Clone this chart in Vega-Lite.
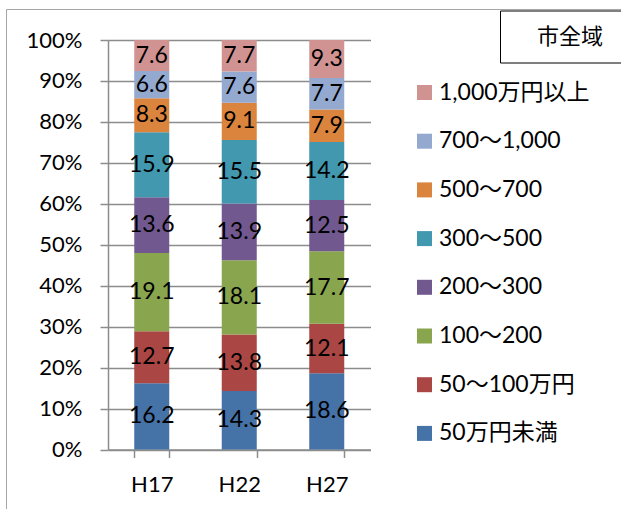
{
  "$schema": "https://vega.github.io/schema/vega-lite/v6.json",
  "width": 262.5,
  "height": 409.5,
  "autosize": {"type": "none"},
  "padding": {"left": 108, "top": 40, "right": 250.5, "bottom": 59.5},
  "background": "#ffffff",
  "config": {
    "view": {"stroke": null},
    "font": "Lato",
    "axis": {
      "labelFont": "Lato",
      "labelFontSize": 22,
      "labelColor": "#000000",
      "domainColor": "#8c8c8c",
      "domainWidth": 1.5,
      "tickColor": "#8c8c8c",
      "tickWidth": 1.5,
      "tickSize": 8,
      "gridColor": "#8c8c8c",
      "gridWidth": 1.5,
      "title": null
    }
  },
  "data": {
    "values": [
      {"year": "H17", "cat": "50万円未満", "k": 1, "v": 16.2},
      {"year": "H17", "cat": "50～100万円", "k": 2, "v": 12.7},
      {"year": "H17", "cat": "100～200", "k": 3, "v": 19.1},
      {"year": "H17", "cat": "200～300", "k": 4, "v": 13.6},
      {"year": "H17", "cat": "300～500", "k": 5, "v": 15.9},
      {"year": "H17", "cat": "500～700", "k": 6, "v": 8.3},
      {"year": "H17", "cat": "700～1,000", "k": 7, "v": 6.6},
      {"year": "H17", "cat": "1,000万円以上", "k": 8, "v": 7.6},
      {"year": "H22", "cat": "50万円未満", "k": 1, "v": 14.3},
      {"year": "H22", "cat": "50～100万円", "k": 2, "v": 13.8},
      {"year": "H22", "cat": "100～200", "k": 3, "v": 18.1},
      {"year": "H22", "cat": "200～300", "k": 4, "v": 13.9},
      {"year": "H22", "cat": "300～500", "k": 5, "v": 15.5},
      {"year": "H22", "cat": "500～700", "k": 6, "v": 9.1},
      {"year": "H22", "cat": "700～1,000", "k": 7, "v": 7.6},
      {"year": "H22", "cat": "1,000万円以上", "k": 8, "v": 7.7},
      {"year": "H27", "cat": "50万円未満", "k": 1, "v": 18.6},
      {"year": "H27", "cat": "50～100万円", "k": 2, "v": 12.1},
      {"year": "H27", "cat": "100～200", "k": 3, "v": 17.7},
      {"year": "H27", "cat": "200～300", "k": 4, "v": 12.5},
      {"year": "H27", "cat": "300～500", "k": 5, "v": 14.2},
      {"year": "H27", "cat": "500～700", "k": 6, "v": 7.9},
      {"year": "H27", "cat": "700～1,000", "k": 7, "v": 7.7},
      {"year": "H27", "cat": "1,000万円以上", "k": 8, "v": 9.3}
    ]
  },
  "encoding": {
    "x": {
      "field": "year",
      "type": "nominal",
      "scale": {"paddingInner": 0.6, "paddingOuter": 0.3},
      "axis": {"labelAngle": 0, "labelPadding": 17, "tickBand": "extent", "grid": false}
    }
  },
  "layer": [
    {
      "mark": {"type": "bar"},
      "encoding": {
        "y": {
          "field": "v",
          "type": "quantitative",
          "stack": "zero",
          "scale": {"domain": [0, 100], "nice": false},
          "axis": {
            "values": [0, 10, 20, 30, 40, 50, 60, 70, 80, 90, 100],
            "labelExpr": "datum.value + '%'",
            "labelPadding": 18,
            "grid": true
          }
        },
        "order": {"field": "k", "type": "quantitative", "sort": "ascending"},
        "color": {
          "field": "cat",
          "type": "nominal",
          "scale": {
            "domain": ["1,000万円以上", "700～1,000", "500～700", "300～500", "200～300", "100～200", "50～100万円", "50万円未満"],
            "range": ["#D19392", "#93A9CF", "#DB843D", "#4198AF", "#71588F", "#89A54E", "#AA4643", "#4572A7"]
          },
          "legend": {
            "title": null,
            "orient": "none",
            "legendX": 305,
            "legendY": 41,
            "symbolType": "square",
            "symbolSize": 225,
            "symbolStrokeWidth": 0,
            "labelFont": "Lato, 'Noto Sans CJK JP'",
            "labelFontSize": 23,
            "labelColor": "#000000",
            "labelOffset": 3,
            "rowPadding": 24.7,
            "labelLimit": 300,
            "padding": 0
          }
        }
      }
    },
    {
      "transform": [
        {"stack": "v", "groupby": ["year"], "sort": [{"field": "k", "order": "ascending"}], "as": ["y0", "y1"]},
        {"fold": ["y0", "y1"], "as": ["edge", "pos"]}
      ],
      "mark": {"type": "text", "baseline": "middle", "align": "center", "fontSize": 23, "font": "Lato", "color": "#000000"},
      "encoding": {
        "y": {"aggregate": "mean", "field": "pos", "type": "quantitative", "stack": null},
        "detail": {"field": "cat", "type": "nominal"},
        "text": {"field": "v", "type": "quantitative", "format": ".1f"}
      }
    },
    {
      "mark": {"type": "point", "opacity": 0},
      "encoding": {
        "shape": {
          "datum": "市全域",
          "legend": {
            "title": null,
            "orient": "none",
            "legendX": 392,
            "legendY": -29.5,
            "strokeColor": "#000000",
            "padding": 15,
            "symbolSize": 64,
            "symbolOpacity": 0,
            "symbolStrokeWidth": 0,
            "labelOffset": 0,
            "labelFont": "'Noto Sans CJK JP'",
            "labelFontSize": 22,
            "labelColor": "#000000",
            "labelExpr": "datum.label + '\u2800'",
            "labelLimit": 300
          }
        },
        "strokeDash": {
          "datum": "frame",
          "legend": {
            "title": null,
            "orient": "none",
            "legendX": -102,
            "legendY": -31,
            "strokeColor": "#a6a6a6",
            "padding": 310,
            "symbolSize": 0,
            "symbolOpacity": 0,
            "symbolStrokeWidth": 0,
            "labelOffset": 0,
            "labelFontSize": 1,
            "labelExpr": "''",
            "encode": {"legend": {"update": {"strokeWidth": {"value": 2}}}}
          }
        }
      }
    }
  ]
}
